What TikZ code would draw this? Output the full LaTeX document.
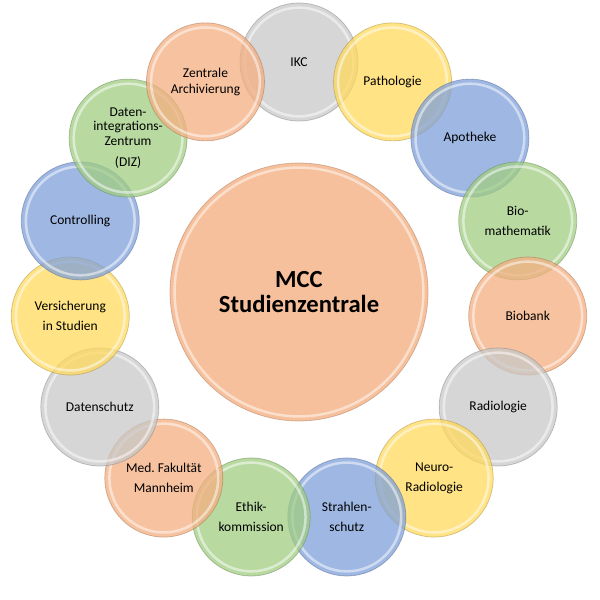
\documentclass[tikz,border=0pt]{standalone}
\usepackage{fontspec}
\setmainfont{Carlito}
\usetikzlibrary{calc}
\definecolor{corange}{HTML}{F4AE80}
\definecolor{cgray}{HTML}{C8C8C8}
\definecolor{cyellow}{HTML}{FFD95C}
\definecolor{cblue}{HTML}{7FA0DA}
\definecolor{cgreen}{HTML}{A0CD82}
\tikzset{
  part/.style={circle, minimum size=2.95cm, inner sep=0pt, align=center,
    fill=#1, fill opacity=0.75, text opacity=1, draw=#1!65!black,
    draw opacity=0.5, line width=0.5pt,
    font=\fontsize{9.6}{14.2}\selectfont},
  hub/.style={circle, minimum size=6.45cm, inner sep=0pt, align=center,
    fill=corange!78, draw=corange!70!black, draw opacity=0.5, line width=0.5pt,
    font=\fontsize{17.5}{17.7}\selectfont\bfseries},
  rim/.style={white, opacity=0.5, line width=1.8pt}
}
\begin{document}
\begin{tikzpicture}
\useasboundingbox (0,0) rectangle (15,15);
\coordinate (c) at (7.475,7.7);

% centre
\node[hub] (mcc) at (c) {MCC\\Studienzentrale};
\draw[rim] (mcc.center) circle (3.11);

% ring, clockwise from the top
\node[part=cgray] (ikc) at ($(c)+(90:5.75)$) {IKC};
\draw[rim] (ikc.center) circle (1.36);
\node[part=cyellow] (patho) at ($(c)+(66:5.75)$) {Pathologie};
\draw[rim] (patho.center) circle (1.36);
\node[part=cblue] (apo) at ($(c)+(42:5.75)$) {Apotheke};
\draw[rim] (apo.center) circle (1.36);
\node[part=cgreen] (biomath) at ($(c)+(18:5.75)$) {Bio-\\mathematik};
\draw[rim] (biomath.center) circle (1.36);
\node[part=corange] (biobank) at ($(c)+(-6:5.75)$) {Biobank};
\draw[rim] (biobank.center) circle (1.36);
\node[part=cgray] (radio) at ($(c)+(-30:5.75)$) {Radiologie};
\draw[rim] (radio.center) circle (1.36);
\node[part=cyellow] (neuro) at ($(c)+(-54:5.75)$) {Neuro-\\Radiologie};
\draw[rim] (neuro.center) circle (1.36);
\node[part=cblue] (strahl) at ($(c)+(-78:5.75)$) {Strahlen-\\schutz};
\draw[rim] (strahl.center) circle (1.36);
\node[part=cgreen] (ethik) at ($(c)+(-102:5.75)$) {Ethik-\\kommission};
\draw[rim] (ethik.center) circle (1.36);
\node[part=corange] (medfak) at ($(c)+(-126:5.75)$) {Med.\ Fakultät\\Mannheim};
\draw[rim] (medfak.center) circle (1.36);
\node[part=cgray] (dschutz) at ($(c)+(-150:5.75)$) {Datenschutz};
\draw[rim] (dschutz.center) circle (1.36);
\node[part=cyellow] (vers) at ($(c)+(-174:5.75)$) {Versicherung\\in Studien};
\draw[rim] (vers.center) circle (1.36);
\node[part=cblue] (contr) at ($(c)+(162:5.75)$) {Controlling};
\draw[rim] (contr.center) circle (1.36);
\node[part=cgreen] (diz) at ($(c)+(138:5.75)$) {Daten-\\[-3.6pt]integrations-\\[-3.6pt]Zentrum\\[0.8pt](DIZ)};
\draw[rim] (diz.center) circle (1.36);
\node[part=corange] (archiv) at ($(c)+(114:5.75)$) {Zentrale\\[-3pt]Archivierung};
\draw[rim] (archiv.center) circle (1.36);
\end{tikzpicture}
\end{document}
